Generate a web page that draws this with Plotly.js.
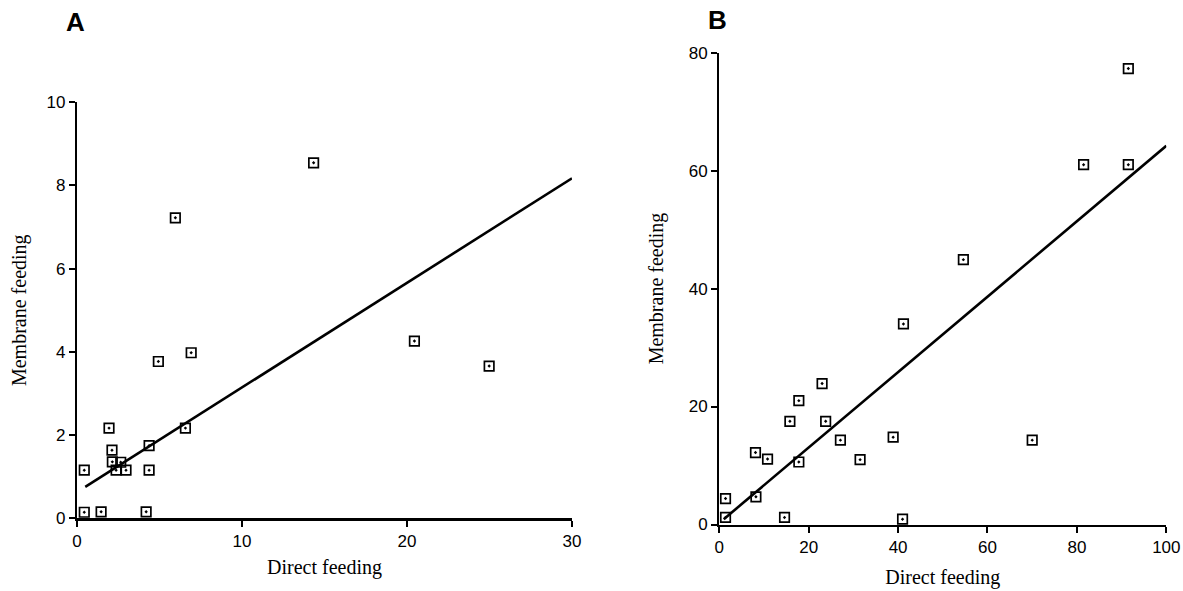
<!DOCTYPE html>
<html>
<head>
<meta charset="utf-8">
<script src="https://cdn.plot.ly/plotly-3.0.1.min.js"></script>
<style>html,body{margin:0;padding:0;background:#fff;}#chart{width:1183px;height:591px;}</style>
</head>
<body>
<div id="chart"></div>
<script>
// Panel A data
const directA   = [0.44, 0.44, 1.46, 4.19, 1.94, 2.12, 2.14, 2.37, 2.65, 2.97, 4.37, 4.37, 6.57, 4.93, 5.96, 6.92, 14.34, 20.45, 24.98];
const membraneA = [1.16, 0.15, 0.16, 0.16, 2.17, 1.64, 1.36, 1.16, 1.35, 1.16, 1.75, 1.16, 2.17, 3.77, 7.22, 3.98, 8.54, 4.26, 3.66];
const fitA_x = [0.5, 30];
const fitA_y = [0.76, 8.17];

// Panel B data
const directB   = [1.4, 1.4, 8.2, 14.6, 8.1, 10.8, 17.8, 15.8, 17.8, 23.0, 23.8, 27.1, 31.5, 38.9, 41.0, 41.2, 54.6, 70.0, 81.5, 91.5, 91.5];
const membraneB = [1.2, 4.4, 4.7, 1.2, 12.2, 11.1, 10.6, 17.5, 21.0, 23.9, 17.5, 14.3, 11.0, 14.8, 0.9, 34.0, 44.9, 14.3, 61.0, 61.0, 77.3];
const fitB_x = [1, 100];
const fitB_y = [0.9, 64.2];

const ticksA_x = [0, 10, 20, 30];
const ticksA_y = [0, 2, 4, 6, 8, 10];
const ticksB_x = [0, 20, 40, 60, 80, 100];
const ticksB_y = [0, 20, 40, 60, 80];

const marker = {symbol: 'square-open-dot', size: 9.5, color: '#000', line: {color: '#000', width: 1.7}};
const fitLine = {color: '#000', width: 2.6};

const traces = [
  {x: fitA_x, y: fitA_y, mode: 'lines', line: fitLine, xaxis: 'x', yaxis: 'y', showlegend: false, hoverinfo: 'skip'},
  {x: directA, y: membraneA, mode: 'markers', marker: marker, xaxis: 'x', yaxis: 'y', showlegend: false, cliponaxis: false},
  {x: fitB_x, y: fitB_y, mode: 'lines', line: fitLine, xaxis: 'x2', yaxis: 'y2', showlegend: false, hoverinfo: 'skip'},
  {x: directB, y: membraneB, mode: 'markers', marker: marker, xaxis: 'x2', yaxis: 'y2', showlegend: false, cliponaxis: false}
];

const tickFont = {family: 'Liberation Sans, Arial, sans-serif', size: 17, color: '#000'};
const titleFont = {family: 'Liberation Serif, Times New Roman, serif', size: 20, color: '#000'};

function axis(domain, range, ticks, anchor, title, standoff, extra) {
  return Object.assign({
    domain: domain, range: range, anchor: anchor,
    tickmode: 'array', tickvals: ticks, ticktext: ticks.map(String),
    showgrid: false, zeroline: false, showline: true, linecolor: '#000', linewidth: 2.2,
    ticks: 'outside', ticklen: 6, tickwidth: 2, tickcolor: '#000',
    tickfont: tickFont,
    title: {text: title, font: titleFont, standoff: standoff}
  }, extra || {});
}

const layout = {
  width: 1183, height: 591,
  margin: {l: 0, r: 0, t: 0, b: 0},
  paper_bgcolor: '#fff', plot_bgcolor: '#fff',
  xaxis:  axis([0.0651, 0.4835], [0, 30], ticksA_x, 'y', 'Direct feeding', 10),
  yaxis:  axis([0.1227, 0.8274], [0, 10], ticksA_y, 'x', 'Membrane feeding', 15),
  xaxis2: axis([0.608, 0.9859], [0, 100], ticksB_x, 'y2', 'Direct feeding', 14),
  yaxis2: axis([0.1125, 0.9110], [0, 80], ticksB_y, 'x2', 'Membrane feeding', 20),
  annotations: [
    {text: '<b>A</b>', x: 75, y: 22, xref: 'paper', yref: 'paper', showarrow: false,
     font: {family: 'Liberation Sans, Arial, sans-serif', size: 26, color: '#000'}, xanchor: 'center', yanchor: 'middle'},
    {text: '<b>B</b>', x: 717, y: 20, xref: 'paper', yref: 'paper', showarrow: false,
     font: {family: 'Liberation Sans, Arial, sans-serif', size: 26, color: '#000'}, xanchor: 'center', yanchor: 'middle'}
  ]
};
// convert annotation pixel positions to paper fractions
layout.annotations.forEach(a => { a.x = a.x / 1183; a.y = 1 - a.y / 591; });

Plotly.newPlot('chart', traces, layout, {displayModeBar: false, staticPlot: true});
</script>
</body>
</html>
